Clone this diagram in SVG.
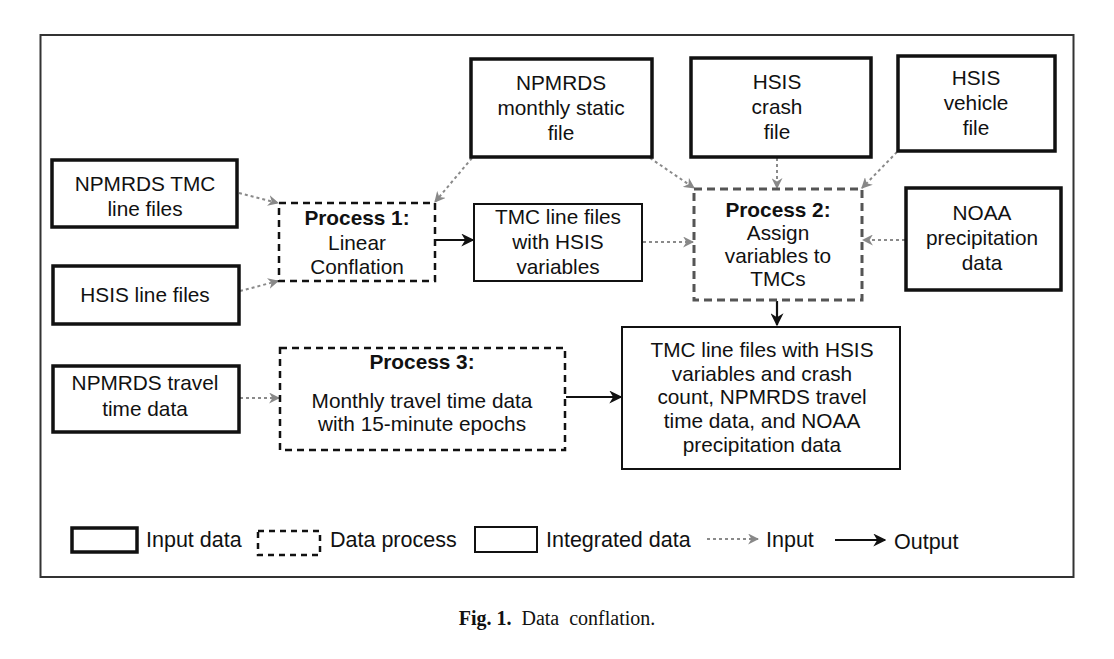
<svg xmlns="http://www.w3.org/2000/svg" width="1114" height="659" viewBox="0 0 1114 659">
<style>
text{font-family:"Liberation Sans",Arial,sans-serif;font-size:20.8px;fill:#111;text-anchor:middle}
.b{font-weight:bold}
.inp{fill:#fff;stroke:#111;stroke-width:3.5}
.proc{fill:#fff;stroke:#111;stroke-width:2.5;stroke-dasharray:7 5}
.proc2{fill:#fff;stroke:#555;stroke-width:3;stroke-dasharray:8 5}
.integ{fill:#fff;stroke:#111;stroke-width:2}
.dot{fill:none;stroke:#8a8a8a;stroke-width:2;stroke-dasharray:3 3;marker-end:url(#ag)}
.sol{fill:none;stroke:#111;stroke-width:2.2;marker-end:url(#ab)}
.leg{font-size:21.5px;text-anchor:start}
.cap{font-family:"Liberation Serif","Times New Roman",serif;font-size:20px}
</style>
<defs>
<marker id="ag" viewBox="0 0 10 10" refX="9" refY="5" markerWidth="11" markerHeight="11" markerUnits="userSpaceOnUse" orient="auto"><path d="M0,0 L10,5 L0,10 L3,5z" fill="#888"/></marker>
<marker id="ab" viewBox="0 0 10 10" refX="9" refY="5" markerWidth="13" markerHeight="13" markerUnits="userSpaceOnUse" orient="auto"><path d="M0,0 L10,5 L0,10 L3,5z" fill="#111"/></marker>
</defs>
<rect width="1114" height="659" fill="#fff"/>
<rect x="40.5" y="35" width="1033" height="542" fill="none" stroke="#333" stroke-width="2"/>

<g id="connectors">
<line class="dot" x1="239" y1="193" x2="278" y2="203"/>
<line class="dot" x1="240" y1="291" x2="278" y2="281"/>
<line class="dot" x1="472" y1="158" x2="435" y2="202"/>
<line class="dot" x1="650" y1="158" x2="694" y2="188"/>
<line class="dot" x1="777" y1="158" x2="777" y2="188"/>
<line class="dot" x1="897" y1="152" x2="862" y2="188"/>
<line class="dot" x1="643" y1="242" x2="693" y2="242"/>
<line class="dot" x1="905" y1="240" x2="863" y2="240"/>
<line class="dot" x1="240" y1="398" x2="279" y2="398"/>
<line class="sol" x1="436" y1="240" x2="473" y2="240"/>
<line class="sol" x1="777" y1="301" x2="777" y2="325"/>
<line class="sol" x1="566" y1="397" x2="621" y2="397"/>
</g>

<g id="n_tmc_line">
<rect class="inp" x="52" y="160" width="185" height="67"/>
<text x="145" y="191">NPMRDS TMC</text><text x="145" y="216">line files</text>
</g>
<g id="n_hsis_line">
<rect class="inp" x="53" y="266" width="186" height="58"/>
<text x="145" y="302">HSIS line files</text>
</g>
<g id="n_proc1">
<rect class="proc" x="279" y="203" width="156" height="78"/>
<text class="b" x="357" y="225">Process 1:</text><text x="357" y="250">Linear</text><text x="357" y="274">Conflation</text>
</g>
<g id="n_static">
<rect class="inp" x="471" y="59" width="181" height="98"/>
<text x="561" y="90">NPMRDS</text><text x="561" y="115">monthly static</text><text x="561" y="140">file</text>
</g>
<g id="n_crash">
<rect class="inp" x="691" y="58" width="180" height="99"/>
<text x="777" y="89">HSIS</text><text x="777" y="114">crash</text><text x="777" y="139">file</text>
</g>
<g id="n_vehicle">
<rect class="inp" x="898" y="56" width="157" height="95"/>
<text x="976" y="85">HSIS</text><text x="976" y="110">vehicle</text><text x="976" y="135">file</text>
</g>
<g id="n_tmc_hsis">
<rect class="integ" x="474" y="204" width="168" height="77"/>
<text x="558" y="224">TMC line files</text><text x="558" y="249">with HSIS</text><text x="558" y="274">variables</text>
</g>
<g id="n_proc2">
<rect class="proc2" x="694" y="189" width="168" height="111"/>
<text class="b" x="778" y="217">Process 2:</text><text x="778" y="240">Assign</text><text x="778" y="263">variables to</text><text x="778" y="286">TMCs</text>
</g>
<g id="n_noaa">
<rect class="inp" x="906" y="188" width="155" height="102"/>
<text x="982" y="220">NOAA</text><text x="982" y="245">precipitation</text><text x="982" y="270">data</text>
</g>
<g id="n_travel">
<rect class="inp" x="53" y="366" width="186" height="66"/>
<text x="145" y="390">NPMRDS travel</text><text x="145" y="416">time data</text>
</g>
<g id="n_proc3">
<rect class="proc" x="280" y="348" width="285" height="102"/>
<text class="b" x="422" y="369">Process 3:</text><text x="422" y="408">Monthly travel time data</text><text x="422" y="431">with 15-minute epochs</text>
</g>
<g id="n_integrated">
<rect class="integ" x="622" y="327" width="278" height="142"/>
<text x="762" y="357">TMC line files with HSIS</text><text x="762" y="381">variables and crash</text><text x="762" y="404">count, NPMRDS travel</text><text x="762" y="428">time data, and NOAA</text><text x="762" y="452">precipitation data</text>
</g>

<g id="legend">
<rect class="inp" x="72" y="528" width="65" height="24"/>
<text class="leg" x="146" y="547">Input data</text>
<rect class="proc" x="258" y="531" width="62" height="24" style="stroke-dasharray:6 5"/>
<text class="leg" x="330" y="547">Data process</text>
<rect class="integ" x="475" y="527" width="62" height="25"/>
<text class="leg" x="546" y="547">Integrated data</text>
<line class="dot" x1="707" y1="539" x2="758" y2="539"/>
<text class="leg" x="766" y="547">Input</text>
<line class="sol" x1="835" y1="540" x2="885" y2="540"/>
<text class="leg" x="894" y="549">Output</text>
</g>

<text class="cap" x="557" y="625" xml:space="preserve"><tspan font-weight="bold">Fig. 1.</tspan>  Data  conflation.</text>
</svg>
